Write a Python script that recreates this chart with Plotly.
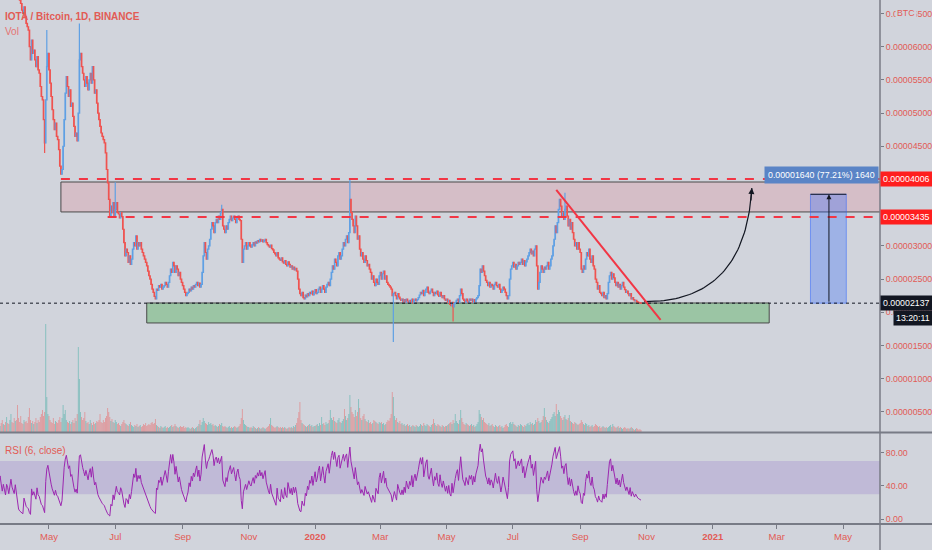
import numpy as np
import pandas as pd
import plotly.graph_objects as go

SAT = 1e-8  # values below are in satoshi (1e-8 BTC)

# daily closes, one line per month (2019-03-01 .. 2020-10-27)
close_2019 = [
    7450, 7500, 7420, 7380, 7460, 7520, 7480, 7400, 7350, 7420, 7480, 7550, 7500, 7430, 7380, 7400, 7450, 7390, 7320, 7360, 7300, 7250, 7310, 7280, 7220, 7260, 7300, 7240, 7200, 7180, 7220,
    7150, 6950, 6800, 6700, 6650, 6550, 6500, 6600, 6450, 6350, 6300, 6250, 6000, 5800, 6100, 5900, 5950, 5800, 5700, 5850, 5650, 5600, 5400, 5250, 5200, 4900, 4550, 5200, 5700, 5900,
    5650, 5450, 5250, 5050, 4900, 4750, 4850, 4650, 4600, 4450, 4200, 4080, 4150, 4500, 4900, 5300, 5550, 5400, 5250, 5350, 5100, 5150, 4950, 4800, 4650, 4700, 4580, 5000, 5800, 5900, 5700,
    5600, 5500, 5400, 5550, 5450, 5350, 5500, 5600, 5450, 5700, 5500, 5300, 5350, 5150, 5000, 4900, 4800, 4700, 4650, 4600, 4550, 4400, 4150, 3950, 3700, 3450, 3600, 3500, 3650, 3450,
    3550, 3650, 3500, 3480, 3420, 3500, 3440, 3250, 3050, 2850, 2950, 2900, 2750, 2850, 2720, 2800, 2950, 3050, 3000, 3150, 2950, 3050, 3000, 3050, 2950, 2900, 2850, 2800, 2750, 2700, 2620,
    2550, 2500, 2420, 2350, 2300, 2240, 2200, 2350, 2330, 2400, 2380, 2420, 2350, 2380, 2400, 2450, 2420, 2380, 2450, 2550, 2650, 2600, 2750, 2700, 2600, 2700, 2650, 2550, 2600, 2500, 2450,
    2400, 2350, 2300, 2250, 2280, 2300, 2350, 2320, 2380, 2350, 2400, 2380, 2420, 2450, 2400, 2440, 2380, 2420, 2600, 2850, 3050, 2900, 2800, 2950, 3000, 3100, 3250, 3350, 3300, 3200,
    3350, 3400, 3350, 3450, 3400, 3500, 3550, 3300, 3250, 3200, 3300, 3250, 3350, 3400, 3450, 3380, 3420, 3450, 3400, 3350, 3420, 3450, 3400, 3380, 3100, 2750, 2950, 3000, 3050, 2950, 3000,
    3050, 3000, 2980, 3020, 3050, 3000, 3060, 3040, 3080, 3060, 3100, 3070, 3090, 3060, 3080, 3100, 3050, 3020, 3000, 2980, 3010, 2960, 2940, 2900, 2880, 2850, 2900, 2820, 2800, 2780,
    2820, 2760, 2740, 2780, 2720, 2700, 2760, 2720, 2680, 2700, 2650, 2680, 2640, 2660, 2620, 2500, 2350, 2280, 2250, 2300, 2220, 2200, 2260, 2230, 2280, 2250, 2300, 2280, 2320, 2260, 2300,
]
close_2020 = [
    2340, 2280, 2300, 2350, 2380, 2300, 2350, 2400, 2350, 2300, 2380, 2420, 2450, 2400, 2500, 2600, 2700, 2650, 2800, 2750, 2700, 2850, 2900, 2800, 2850, 2950, 3050, 3000, 3100, 3150, 3050,
    3200, 3700, 3500, 3400, 3300, 3200, 3450, 3300, 3100, 3150, 2950, 2850, 2900, 2800, 2750, 2850, 2780, 2700, 2720, 2650, 2600, 2500, 2550, 2450, 2400, 2500, 2450, 2420, 2550,
    2600, 2500, 2580, 2620, 2500, 2550, 2450, 2420, 2400, 2380, 2350, 2250, 2280, 2300, 2250, 2200, 2280, 2230, 2200, 2180, 2200, 2160, 2190, 2150, 2200, 2170, 2150, 2180, 2160, 2200, 2140,
    2180, 2200, 2170, 2190, 2220, 2260, 2300, 2280, 2330, 2250, 2300, 2350, 2380, 2300, 2280, 2320, 2350, 2300, 2250, 2300, 2280, 2320, 2260, 2240, 2300, 2250, 2220, 2250, 2200, 2180,
    2200, 2150, 2180, 2120, 2100, 2150, 2080, 2130, 2150, 2180, 2200, 2150, 2250, 2350, 2280, 2200, 2180, 2150, 2200, 2170, 2150, 2200, 2180, 2200, 2150, 2190, 2160, 2200, 2220, 2250, 2400,
    2650, 2600, 2700, 2620, 2550, 2480, 2450, 2400, 2450, 2380, 2420, 2400, 2350, 2420, 2450, 2400, 2380, 2420, 2350, 2300, 2330, 2380, 2350, 2300, 2250, 2200, 2250, 2500, 2650, 2700,
    2750, 2680, 2720, 2650, 2700, 2750, 2720, 2750, 2800, 2720, 2780, 2700, 2760, 2800, 2850, 2900, 2950, 2880, 2920, 2850, 2950, 3000, 2700, 2350, 2450, 2600, 2700, 2650, 2600, 2680, 2650,
    2700, 2750, 2650, 2700, 2800, 2850, 3000, 3100, 3300, 3200, 3350, 3550, 3700, 3600, 3450, 3500, 3400, 3550, 3600, 3450, 3300, 3400, 3250, 3350, 3200, 3100, 3000, 3050, 2950, 3050, 2950,
    2900, 2650, 2600, 2700, 2650, 2800, 2900, 2850, 2950, 2800, 2750, 2850, 2700, 2650, 2500, 2450, 2350, 2400, 2300, 2280, 2250, 2300, 2220, 2250, 2200, 2280, 2450, 2550, 2600, 2500,
    2580, 2520, 2450, 2400, 2450, 2380, 2420, 2350, 2400, 2450, 2380, 2340, 2300, 2320, 2280, 2250, 2280, 2200, 2220, 2190, 2170, 2180, 2160, 2150, 2145, 2140, 2137,
]

# daily volume (relative units), one line per month
volume_2019 = [
    8, 6, 7, 9, 5, 6, 8, 7, 6, 5, 9, 7, 6, 8, 10, 7, 6, 9, 12, 8, 7, 10, 15, 9, 8, 12, 18, 10, 9, 14, 11,
    12, 27, 14, 10, 16, 9, 8, 12, 10, 11, 9, 15, 24, 12, 9, 11, 8, 10, 14, 9, 12, 10, 15, 18, 22, 16, 20, 108, 35, 18,
    16, 12, 10, 9, 14, 8, 11, 10, 9, 12, 15, 10, 14, 27, 18, 22, 12, 10, 9, 11, 8, 10, 12, 9, 14, 11, 18, 85, 53, 20, 15,
    12, 14, 20, 11, 9, 10, 8, 12, 9, 7, 10, 8, 9, 11, 10, 12, 18, 10, 9, 12, 10, 14, 16, 24, 20, 15, 11, 13, 10, 9,
    12, 10, 8, 9, 7, 6, 8, 10, 12, 9, 8, 7, 6, 8, 10, 7, 6, 5, 7, 6, 8, 5, 6, 7, 5, 6, 8, 7, 9, 6, 7,
    8, 7, 9, 10, 8, 9, 13, 7, 6, 5, 4, 6, 5, 4, 5, 6, 4, 5, 4, 5, 6, 7, 5, 6, 8, 6, 5, 4, 5, 6, 5,
    5, 6, 4, 5, 4, 5, 4, 3, 4, 5, 4, 3, 4, 5, 6, 8, 12, 7, 10, 14, 11, 9, 8, 7, 10, 8, 9, 7, 8, 6,
    7, 6, 5, 6, 8, 7, 9, 6, 5, 6, 5, 4, 5, 6, 4, 5, 4, 5, 6, 5, 4, 5, 6, 8, 14, 23, 12, 8, 7, 6, 5,
    5, 4, 5, 4, 6, 5, 4, 3, 4, 5, 4, 3, 4, 5, 4, 3, 4, 5, 6, 8, 14, 7, 6, 5, 4, 5, 6, 5, 4, 5,
    4, 5, 4, 5, 4, 3, 4, 5, 4, 5, 4, 6, 5, 7, 9, 14, 20, 30, 12, 9, 8, 7, 6, 5, 6, 7, 8, 6, 7, 5, 6,
]
volume_2020 = [
    6, 7, 8, 6, 9, 7, 15, 8, 9, 7, 10, 8, 9, 12, 22, 14, 12, 15, 11, 10, 9, 12, 14, 10, 9, 11, 13, 23, 16, 12, 14,
    18, 37, 25, 20, 18, 15, 22, 16, 20, 33, 24, 14, 12, 16, 18, 13, 11, 10, 12, 9, 10, 8, 9, 12, 11, 10, 9, 8, 10,
    9, 10, 8, 9, 7, 8, 10, 12, 11, 14, 18, 40, 35, 16, 12, 14, 10, 9, 11, 8, 9, 7, 8, 6, 7, 8, 6, 7, 5, 6, 7,
    6, 5, 7, 6, 5, 6, 8, 7, 6, 9, 7, 6, 8, 7, 6, 5, 7, 8, 13, 9, 7, 6, 8, 7, 6, 5, 7, 6, 5, 6,
    6, 7, 8, 9, 10, 8, 12, 9, 18, 11, 9, 8, 12, 22, 14, 10, 8, 7, 9, 8, 7, 6, 7, 8, 6, 7, 5, 6, 8, 10, 22,
    18, 15, 12, 14, 10, 9, 8, 7, 9, 6, 7, 8, 6, 5, 7, 6, 5, 6, 7, 5, 6, 4, 5, 7, 8, 6, 5, 9, 10, 8,
    10, 8, 7, 6, 5, 7, 6, 8, 7, 6, 5, 7, 6, 8, 9, 7, 10, 8, 9, 7, 8, 12, 10, 14, 11, 9, 10, 12, 16, 24, 15,
    12, 10, 9, 11, 13, 15, 18, 20, 16, 28, 18, 22, 20, 16, 14, 12, 15, 17, 13, 12, 14, 17, 11, 10, 9, 8, 10, 9, 8, 7, 8,
    9, 12, 10, 8, 7, 9, 8, 6, 7, 5, 6, 7, 5, 6, 8, 7, 6, 5, 6, 4, 5, 6, 5, 4, 5, 4, 5, 6, 7, 5,
    8, 6, 5, 4, 5, 6, 4, 5, 4, 3, 4, 5, 4, 3, 4, 3, 4, 5, 4, 3, 2, 3, 4, 3, 2, 3, 2,
]

# notable wicks (satoshi)
wick_high = {"2019-04-29": 6250, "2019-05-29": 6350, "2019-07-01": 3960,
             "2019-10-07": 3620, "2020-02-02": 4000, "2020-08-18": 3800}
wick_low = {"2019-04-27": 4400, "2020-03-13": 1553, "2020-05-07": 1860}

# price axis ticks (the 0.00004000 and 0.00003500 labels sit under the level tags)
price_ticks = [5e-6, 1e-5, 1.5e-5, 2e-5, 2.5e-5, 3e-5, 4.5e-5, 5e-5, 5.5e-5, 6e-5, 6.5e-5]
rsi_ticks = [0, 40, 80]
month_ticks = ["2019-05-01", "2019-07-01", "2019-09-01", "2019-11-01", "2020-01-01", "2020-03-01",
               "2020-05-01", "2020-07-01", "2020-09-01", "2020-11-01", "2021-01-01", "2021-03-01", "2021-05-01"]
month_labels = ["May", "Jul", "Sep", "Nov", "<b>2020</b>", "Mar", "May", "Jul", "Sep", "Nov",
                "<b>2021</b>", "Mar", "May"]

# drawing objects (date, satoshi)
level_top = 4006
level_bottom = 3435
last_price = 2137
resist_zone = ("2019-05-12", "2021-09-01", 3511, 3962)
support_zone = ("2019-07-30", "2021-02-22", 1839, 2140)
trend_line = ("2020-08-10", 3842, "2020-11-14", 1884)
measure_box = ("2021-04-01", "2021-05-04", 2137, 3777)
curve_pts = (("2020-10-30", 2160), ("2021-01-31", 2150), ("2021-02-06", 3872))

BG = "#d1d4dc"
RED = "#f23645"
TXT = "#e25b55"
AX = "#787b86"
FONT = "Liberation Sans, Arial, sans-serif"
FS = 8.8

closes = close_2019 + close_2020
volumes = volume_2019 + volume_2020
dates = pd.date_range("2019-03-01", periods=len(closes), freq="D")
c = np.array(closes, float)
o = np.concatenate([[c[0]], c[:-1]])
h = np.maximum(o, c)
l = np.minimum(o, c)
for d, v in wick_high.items():
    i = dates.get_loc(pd.Timestamp(d)); h[i] = max(h[i], v)
for d, v in wick_low.items():
    i = dates.get_loc(pd.Timestamp(d)); l[i] = min(l[i], v)

# RSI(6) Wilder
n = 6
delta = np.diff(c, prepend=c[0])
gain = np.clip(delta, 0, None); loss = np.clip(-delta, 0, None)
ag = np.full(len(c), np.nan); al = np.full(len(c), np.nan)
ag[n] = gain[1:n + 1].mean(); al[n] = loss[1:n + 1].mean()
for i in range(n + 1, len(c)):
    ag[i] = (ag[i - 1] * (n - 1) + gain[i]) / n
    al[i] = (al[i - 1] * (n - 1) + loss[i]) / n
with np.errstate(divide="ignore", invalid="ignore"):
    rsi = np.where(al == 0, 100.0, 100 - 100 / (1 + ag / al))

fig = go.Figure()
vol_colors = ["rgba(38,166,154,0.45)" if cc >= oo else "rgba(239,83,80,0.45)" for oo, cc in zip(o, c)]
fig.add_trace(go.Bar(x=dates, y=volumes, marker_color=vol_colors, marker_line_width=0,
                     yaxis="y3", hoverinfo="skip"))
fig.add_trace(go.Candlestick(x=dates, open=o * SAT, high=h * SAT, low=l * SAT, close=c * SAT,
                             increasing=dict(line=dict(color="#5fa0e4", width=1.2), fillcolor="#5fa0e4"),
                             decreasing=dict(line=dict(color="#ef5350", width=1.2), fillcolor="#ef5350"),
                             whiskerwidth=0, hoverinfo="skip", yaxis="y"))
fig.add_trace(go.Scatter(x=dates, y=rsi, mode="lines", line=dict(color="#9c27b0", width=1),
                         yaxis="y2", hoverinfo="skip"))

# curved arrow (quadratic Bezier)
t = np.linspace(0, 1, 60)
px = [pd.Timestamp(p[0]).value for p in curve_pts]
py = [p[1] for p in curve_pts]
bx = (1 - t) ** 2 * px[0] + 2 * (1 - t) * t * px[1] + t ** 2 * px[2]
by = (1 - t) ** 2 * py[0] + 2 * (1 - t) * t * py[1] + t ** 2 * py[2]
fig.add_trace(go.Scatter(x=pd.to_datetime(bx), y=by * SAT, mode="lines",
                         line=dict(color="#131722", width=1.2), hoverinfo="skip", yaxis="y"))

shapes = []
shapes.append(dict(type="rect", xref="paper", x0=0, x1=1, yref="y2", y0=30, y1=70,
                   fillcolor="rgba(126,87,194,0.2)", line_width=0, layer="below"))
shapes.append(dict(type="rect", xref="x", yref="y", x0=resist_zone[0], x1=resist_zone[1],
                   y0=resist_zone[2] * SAT, y1=resist_zone[3] * SAT,
                   fillcolor="rgba(242,54,69,0.14)", line=dict(color="#4a4a4a", width=1), layer="below"))
shapes.append(dict(type="rect", xref="x", yref="y", x0=support_zone[0], x1=support_zone[1],
                   y0=support_zone[2] * SAT, y1=support_zone[3] * SAT,
                   fillcolor="rgba(76,175,80,0.4)", line=dict(color="#4a4a4a", width=1), layer="below"))
shapes.append(dict(type="rect", xref="x", yref="y", x0=measure_box[0], x1=measure_box[1],
                   y0=measure_box[2] * SAT, y1=measure_box[3] * SAT,
                   fillcolor="rgba(41,98,255,0.3)", line=dict(color="rgba(41,98,255,0.5)", width=1)))
shapes.append(dict(type="line", xref="x", yref="y", x0=measure_box[0], x1=measure_box[1],
                   y0=measure_box[3] * SAT, y1=measure_box[3] * SAT, line=dict(color="#131722", width=1)))
shapes.append(dict(type="line", xref="x", yref="y", x0="2019-05-12", x1="2021-09-01",
                   y0=level_top * SAT, y1=level_top * SAT, line=dict(color=RED, width=2, dash="dash")))
shapes.append(dict(type="line", xref="x", yref="y", x0="2019-06-24", x1="2021-09-01",
                   y0=level_bottom * SAT, y1=level_bottom * SAT, line=dict(color=RED, width=2, dash="dash")))
shapes.append(dict(type="line", xref="x", yref="y", x0=trend_line[0], y0=trend_line[1] * SAT,
                   x1=trend_line[2], y1=trend_line[3] * SAT, line=dict(color=RED, width=2)))
shapes.append(dict(type="line", xref="paper", yref="y", x0=0, x1=1, y0=last_price * SAT,
                   y1=last_price * SAT, line=dict(color="#131722", width=1, dash="dot")))
shapes.append(dict(type="line", xref="paper", yref="paper", x0=0, x1=932 / 880, y0=0.1747, y1=0.1747,
                   line=dict(color=AX, width=2)))
shapes.append(dict(type="line", xref="paper", yref="paper", x0=0, x1=932 / 880, y0=0, y1=0,
                   line=dict(color=AX, width=2)))
shapes.append(dict(type="line", xref="paper", yref="paper", x0=1, x1=1, y0=-26 / 524, y1=1,
                   line=dict(color=AX, width=1.5)))

lbl = dict(family=FONT, size=FS, color="white")
annotations = [
    dict(xref="paper", yref="paper", x=0, y=1, xanchor="left", yanchor="top", xshift=3, yshift=-9,
         text="<b>IOTA / Bitcoin, 1D, BINANCE</b>", showarrow=False, font=dict(family=FONT, size=10, color=TXT)),
    dict(xref="paper", yref="paper", x=0, y=1, xanchor="left", yanchor="top", xshift=3, yshift=-24,
         text="Vol", showarrow=False, font=dict(family=FONT, size=10, color="#e57373")),
    dict(xref="paper", yref="y2 domain", x=0, y=1, xanchor="left", yanchor="top", xshift=3, yshift=-10,
         text="RSI (6, close)", showarrow=False, font=dict(family=FONT, size=10, color=TXT)),
    dict(xref="paper", yref="y", x=1 + 26 / 880, y=6.5e-5, xanchor="center", text="BTC", showarrow=False,
         bgcolor=BG, font=dict(family=FONT, size=FS, color=TXT)),
    dict(xref="paper", yref="y", x=1, y=4068 * SAT, xanchor="right", xshift=-1, showarrow=False,
         text="0.00001640 (77.21%) 1640", bgcolor="#5a84c6", borderpad=3, font=lbl),
    dict(xref="paper", yref="y", x=1, y=level_top * SAT, xanchor="left", showarrow=False,
         text="%.8f" % (level_top * SAT), bgcolor="#ff1e1e", borderpad=2, font=lbl),
    dict(xref="paper", yref="y", x=1, y=level_bottom * SAT, xanchor="left", showarrow=False,
         text="%.8f" % (level_bottom * SAT), bgcolor="#ff1e1e", borderpad=2, font=lbl),
    dict(xref="paper", yref="y", x=1, y=last_price * SAT, xanchor="left", showarrow=False,
         text="%.8f" % (last_price * SAT), bgcolor="#131722", borderpad=2, font=lbl),
    dict(xref="paper", yref="y", x=1, y=last_price * SAT, xanchor="left", yshift=-15, xshift=13,
         showarrow=False, text="13:20:11", bgcolor="#131722", borderpad=2, font=lbl),
    dict(xref="x", yref="y", x=curve_pts[2][0], y=curve_pts[2][1] * SAT, ax=-1, ay=14,
         showarrow=True, arrowhead=2, arrowsize=1, arrowwidth=1.2, arrowcolor="#131722", text=""),
    dict(xref="x", yref="y", x="2021-04-18", y=measure_box[3] * SAT, axref="x", ayref="y",
         ax="2021-04-18", ay=measure_box[2] * SAT, showarrow=True, arrowhead=2, arrowsize=1,
         arrowwidth=1, arrowcolor="#131722", text=""),
]

tickfont = dict(family=FONT, size=FS, color=TXT)
fig.update_layout(
    width=932, height=550, margin=dict(l=0, r=52, t=0, b=26),
    paper_bgcolor=BG, plot_bgcolor=BG, showlegend=False, hovermode=False, bargap=0.15,
    xaxis=dict(domain=[0, 1], anchor="y2", type="date", range=["2019-03-16 22:00", "2021-06-04"],
               tickvals=month_ticks, ticktext=month_labels, showgrid=False, zeroline=False,
               ticks="outside", ticklen=4, tickcolor=AX, tickfont=dict(family=FONT, size=9.5, color=TXT),
               showline=False, rangeslider=dict(visible=False)),
    yaxis=dict(domain=[0.1756, 1], anchor="x", side="right", range=[1.97e-6, 6.703e-5],
               tickvals=price_ticks, ticktext=["%.8f" % v for v in price_ticks], showgrid=False,
               zeroline=False, ticks="outside", ticklen=3, tickcolor=AX, tickfont=tickfont),
    yaxis2=dict(domain=[0, 0.1737], anchor="x", side="right", range=[-6, 103.8],
                tickvals=rsi_ticks, ticktext=["%.2f" % v for v in rsi_ticks], showgrid=False,
                zeroline=False, ticks="outside", ticklen=3, tickcolor=AX, tickfont=tickfont),
    yaxis3=dict(overlaying="y", anchor="x", range=[0, 432], visible=False),
    shapes=shapes, annotations=annotations,
)

fig.write_html("out.html", config={"displayModeBar": False},
               post_script="document.body.style.margin='0';document.body.style.overflow='hidden';")
